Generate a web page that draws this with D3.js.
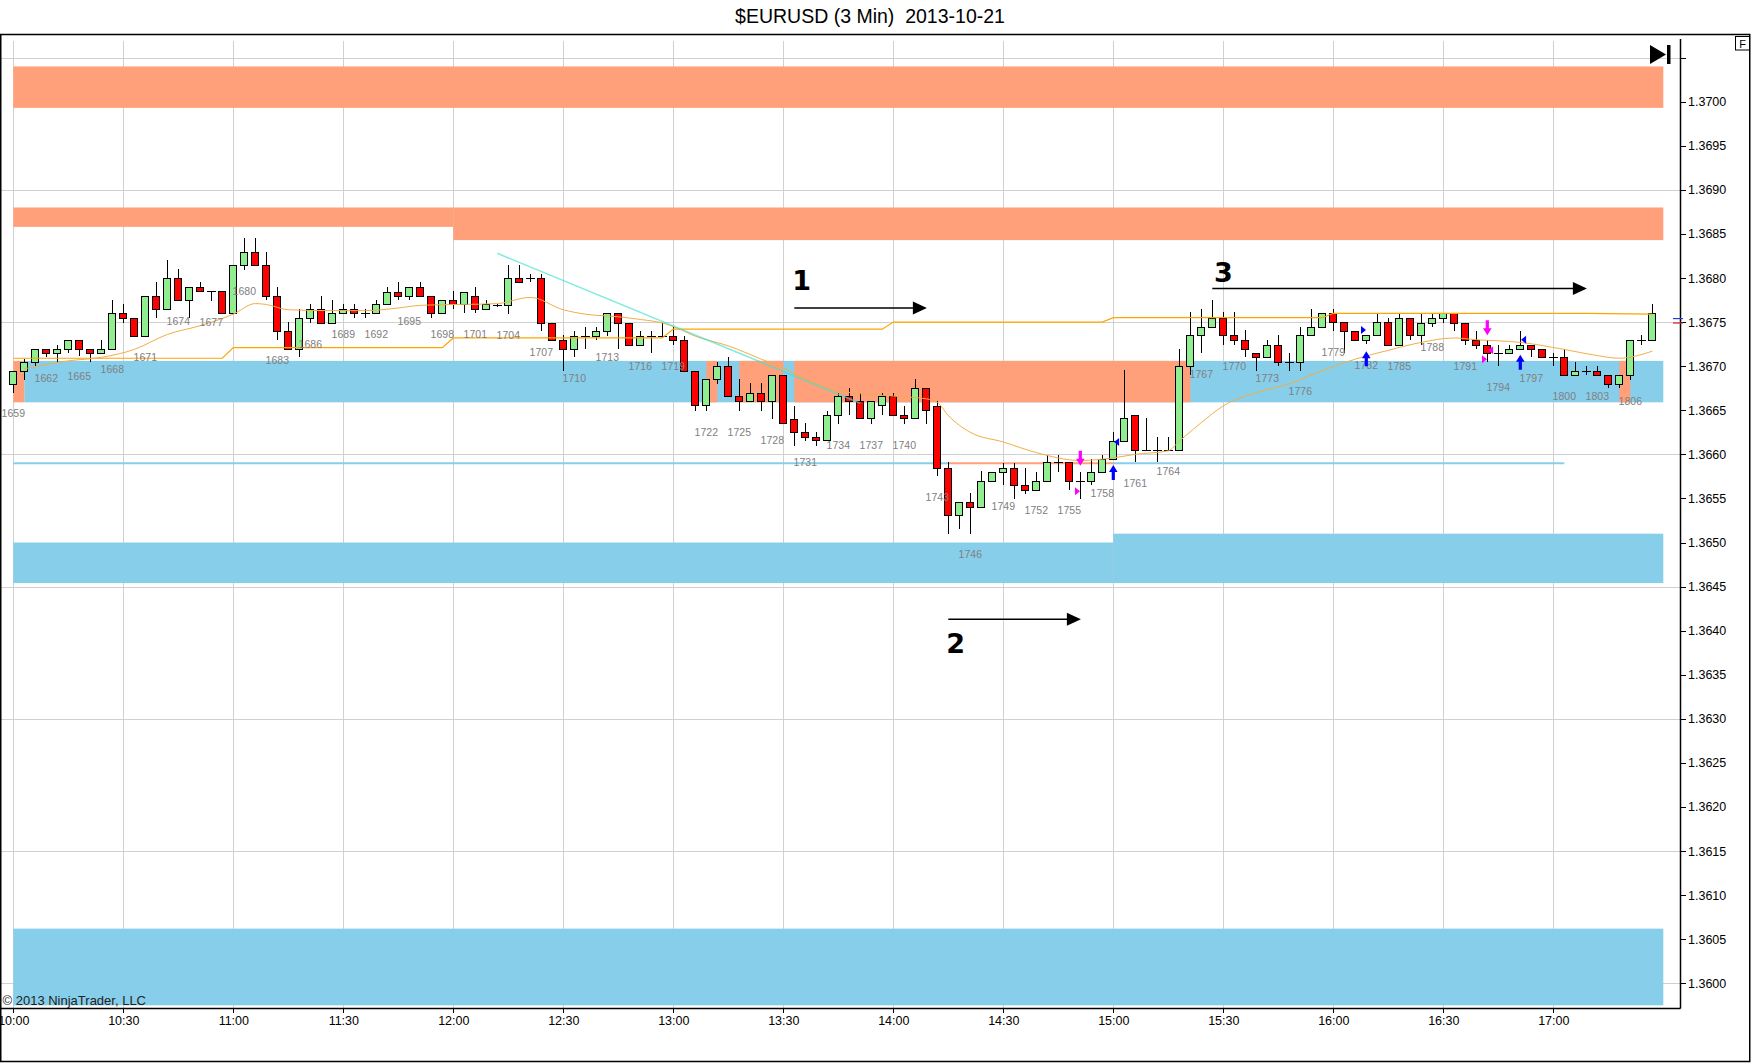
<!DOCTYPE html>
<html>
<head>
<meta charset="utf-8">
<title>$EURUSD (3 Min) 2013-10-21</title>
<script src="https://cdn.jsdelivr.net/npm/d3@7"></script>
<style>
  html, body { margin: 0; padding: 0; background: #fff; }
  svg { display: block; font-family: "Liberation Sans", Arial, sans-serif; }
  .grid line { stroke: #d0d0d0; stroke-width: 1; shape-rendering: crispEdges; }
  .candle line, .candle rect { shape-rendering: crispEdges; }
  .bar-label { font-size: 10.5px; fill: #808080; }
  .axis text { font-size: 12.5px; fill: #000; }
  .axis line { stroke: #000; shape-rendering: crispEdges; }
  .title { font-size: 19.5px; fill: #000; white-space: pre; }
  .note { font-family: "DejaVu Sans", sans-serif; font-weight: bold; font-size: 27px; fill: #000; }
  .copyright { font-size: 13px; fill: #222; }
</style>
</head>
<body>
<svg id="chart"></svg>
<script>
// ---------------- data ----------------
const chartTitle = '$EURUSD (3 Min)  2013-10-21';
const firstBarNumber = 1659;
const sessionStart = new Date(2013, 9, 21, 10, 0);
const barMinutes = 3;

const opens = [
  1.36680, 1.36695, 1.36705, 1.36720, 1.36715, 1.36720, 1.36730, 1.36720, 1.36715, 1.36720,
  1.36760, 1.36755, 1.36734, 1.36780, 1.36765, 1.36800, 1.36775, 1.36790, 1.36785, 1.36785,
  1.36760, 1.36815, 1.36830, 1.36815, 1.36780, 1.36740, 1.36720, 1.36755, 1.36765, 1.36749,
  1.36760, 1.36765, 1.36760, 1.36760, 1.36770, 1.36784, 1.36780, 1.36790, 1.36780, 1.36760,
  1.36775, 1.36770, 1.36780, 1.36765, 1.36769, 1.36769, 1.36800, 1.36800, 1.36800, 1.36749,
  1.36730, 1.36720, 1.36734, 1.36734, 1.36740, 1.36760, 1.36749, 1.36724, 1.36734, 1.36734,
  1.36734, 1.36730, 1.36695, 1.36656, 1.36685, 1.36700, 1.36666, 1.36660, 1.36670, 1.36660,
  1.36690, 1.36640, 1.36625, 1.36620, 1.36616, 1.36645, 1.36666, 1.36660, 1.36641, 1.36656,
  1.36666, 1.36645, 1.36641, 1.36675, 1.36655, 1.36585, 1.36531, 1.36546, 1.36540, 1.36570,
  1.36580, 1.36585, 1.36565, 1.36560, 1.36570, 1.36591, 1.36591, 1.36570, 1.36570, 1.36580,
  1.36595, 1.36615, 1.36645, 1.36605, 1.36605, 1.36605, 1.36605, 1.36700, 1.36735, 1.36745,
  1.36755, 1.36735, 1.36730, 1.36715, 1.36710, 1.36724, 1.36705, 1.36705, 1.36735, 1.36745,
  1.36760, 1.36750, 1.36740, 1.36730, 1.36735, 1.36750, 1.36724, 1.36755, 1.36735, 1.36749,
  1.36755, 1.36760, 1.36749, 1.36730, 1.36724, 1.36715, 1.36715, 1.36720, 1.36724, 1.36720,
  1.36710, 1.36710, 1.36690, 1.36695, 1.36695, 1.36690, 1.36680, 1.36690, 1.36730, 1.36730
];
const highs = [
  1.36695, 1.36708, 1.36720, 1.36720, 1.36724, 1.36730, 1.36730, 1.36720, 1.36730, 1.36775,
  1.36770, 1.36755, 1.36780, 1.36795, 1.36820, 1.36810, 1.36790, 1.36795, 1.36785, 1.36785,
  1.36815, 1.36845, 1.36845, 1.36830, 1.36790, 1.36750, 1.36765, 1.36770, 1.36780, 1.36775,
  1.36770, 1.36770, 1.36765, 1.36775, 1.36790, 1.36795, 1.36790, 1.36795, 1.36780, 1.36775,
  1.36785, 1.36784, 1.36790, 1.36775, 1.36770, 1.36815, 1.36815, 1.36805, 1.36805, 1.36749,
  1.36735, 1.36740, 1.36745, 1.36745, 1.36760, 1.36760, 1.36749, 1.36740, 1.36740, 1.36749,
  1.36745, 1.36734, 1.36695, 1.36685, 1.36705, 1.36710, 1.36685, 1.36681, 1.36681, 1.36690,
  1.36690, 1.36655, 1.36635, 1.36625, 1.36649, 1.36670, 1.36675, 1.36670, 1.36660, 1.36670,
  1.36670, 1.36655, 1.36685, 1.36675, 1.36661, 1.36591, 1.36546, 1.36556, 1.36581, 1.36580,
  1.36590, 1.36590, 1.36585, 1.36580, 1.36599, 1.36599, 1.36591, 1.36580, 1.36595, 1.36599,
  1.36625, 1.36696, 1.36645, 1.36641, 1.36620, 1.36620, 1.36720, 1.36761, 1.36765, 1.36775,
  1.36761, 1.36761, 1.36741, 1.36715, 1.36730, 1.36735, 1.36715, 1.36745, 1.36765, 1.36760,
  1.36765, 1.36750, 1.36740, 1.36735, 1.36760, 1.36755, 1.36760, 1.36755, 1.36760, 1.36760,
  1.36760, 1.36760, 1.36749, 1.36740, 1.36730, 1.36724, 1.36724, 1.36740, 1.36724, 1.36720,
  1.36715, 1.36720, 1.36705, 1.36700, 1.36700, 1.36690, 1.36690, 1.36730, 1.36735, 1.36770
];
const lows = [
  1.36670, 1.36684, 1.36700, 1.36710, 1.36705, 1.36715, 1.36712, 1.36705, 1.36715, 1.36720,
  1.36749, 1.36734, 1.36734, 1.36755, 1.36765, 1.36775, 1.36755, 1.36785, 1.36774, 1.36760,
  1.36760, 1.36809, 1.36815, 1.36775, 1.36730, 1.36720, 1.36710, 1.36749, 1.36749, 1.36749,
  1.36760, 1.36755, 1.36755, 1.36760, 1.36770, 1.36775, 1.36775, 1.36780, 1.36755, 1.36760,
  1.36765, 1.36760, 1.36760, 1.36765, 1.36767, 1.36759, 1.36795, 1.36795, 1.36740, 1.36730,
  1.36695, 1.36710, 1.36720, 1.36730, 1.36734, 1.36720, 1.36724, 1.36724, 1.36715, 1.36734,
  1.36724, 1.36695, 1.36649, 1.36649, 1.36680, 1.36666, 1.36649, 1.36660, 1.36649, 1.36640,
  1.36635, 1.36610, 1.36615, 1.36610, 1.36616, 1.36634, 1.36645, 1.36641, 1.36634, 1.36645,
  1.36645, 1.36634, 1.36641, 1.36634, 1.36575, 1.36510, 1.36515, 1.36510, 1.36540, 1.36570,
  1.36565, 1.36549, 1.36555, 1.36560, 1.36570, 1.36580, 1.36560, 1.36549, 1.36565, 1.36580,
  1.36595, 1.36615, 1.36591, 1.36605, 1.36591, 1.36605, 1.36605, 1.36690, 1.36715, 1.36745,
  1.36724, 1.36724, 1.36710, 1.36695, 1.36710, 1.36700, 1.36695, 1.36695, 1.36735, 1.36745,
  1.36740, 1.36715, 1.36730, 1.36725, 1.36735, 1.36724, 1.36724, 1.36730, 1.36724, 1.36745,
  1.36749, 1.36740, 1.36724, 1.36720, 1.36705, 1.36700, 1.36715, 1.36720, 1.36710, 1.36710,
  1.36700, 1.36690, 1.36690, 1.36690, 1.36690, 1.36675, 1.36675, 1.36684, 1.36724, 1.36730
];
const closes = [
  1.36695, 1.36705, 1.36720, 1.36715, 1.36720, 1.36730, 1.36720, 1.36715, 1.36720, 1.36760,
  1.36755, 1.36734, 1.36780, 1.36765, 1.36800, 1.36775, 1.36790, 1.36785, 1.36785, 1.36760,
  1.36815, 1.36830, 1.36815, 1.36780, 1.36740, 1.36720, 1.36755, 1.36765, 1.36749, 1.36760,
  1.36765, 1.36760, 1.36760, 1.36770, 1.36784, 1.36780, 1.36790, 1.36780, 1.36760, 1.36775,
  1.36770, 1.36784, 1.36765, 1.36770, 1.36769, 1.36800, 1.36795, 1.36800, 1.36749, 1.36730,
  1.36720, 1.36734, 1.36734, 1.36740, 1.36760, 1.36749, 1.36724, 1.36734, 1.36734, 1.36734,
  1.36730, 1.36695, 1.36656, 1.36685, 1.36700, 1.36666, 1.36660, 1.36670, 1.36660, 1.36690,
  1.36635, 1.36625, 1.36620, 1.36616, 1.36645, 1.36666, 1.36660, 1.36641, 1.36660, 1.36666,
  1.36645, 1.36641, 1.36675, 1.36650, 1.36585, 1.36531, 1.36546, 1.36540, 1.36570, 1.36580,
  1.36585, 1.36565, 1.36560, 1.36570, 1.36591, 1.36591, 1.36570, 1.36570, 1.36580, 1.36595,
  1.36615, 1.36641, 1.36605, 1.36605, 1.36605, 1.36605, 1.36700, 1.36735, 1.36745, 1.36755,
  1.36735, 1.36730, 1.36720, 1.36710, 1.36724, 1.36705, 1.36705, 1.36735, 1.36745, 1.36760,
  1.36750, 1.36740, 1.36730, 1.36735, 1.36750, 1.36724, 1.36755, 1.36735, 1.36749, 1.36755,
  1.36760, 1.36749, 1.36730, 1.36724, 1.36715, 1.36715, 1.36720, 1.36724, 1.36720, 1.36710,
  1.36710, 1.36690, 1.36695, 1.36695, 1.36690, 1.36680, 1.36690, 1.36730, 1.36730, 1.36760
];

// smooth orange average, read at selected bars
const maBars = [1, 5, 8, 11, 14, 17, 20, 22, 23, 25, 29, 32, 35, 37, 44, 47, 50, 52, 55, 57,
  59, 60, 62, 65, 68, 70, 72, 75, 80, 83, 84, 85, 87, 90, 93, 97, 100, 102, 105, 106,
  108, 110, 113, 116, 119, 122, 125, 128, 131, 133, 137, 141, 144, 146, 149];
const maPrices = [1.36697, 1.36706, 1.36710, 1.36719, 1.36736, 1.36746, 1.36759, 1.36771, 1.36770, 1.36764,
  1.36763, 1.36763, 1.36766, 1.36769, 1.36771, 1.36778, 1.36764, 1.36759, 1.36756, 1.36753,
  1.36749, 1.36745, 1.36734, 1.36723, 1.36708, 1.36698, 1.36686, 1.36672, 1.36666, 1.36663,
  1.36659, 1.36644, 1.36625, 1.36614, 1.36602, 1.36593, 1.36596, 1.36600, 1.36604, 1.36615,
  1.36636, 1.36655, 1.36670, 1.36680, 1.36695, 1.36708, 1.36718, 1.36727, 1.36732, 1.36730,
  1.36727, 1.36719, 1.36712, 1.36709, 1.36717];

// stepped (hourly) orange line
const stepBars = [0, 19, 20, 39, 40, 59, 60, 79, 80, 99, 100, 119, 120, 143, 149];
const stepPrices = [1.36709, 1.36709, 1.36721, 1.36721, 1.36732, 1.36732, 1.36742, 1.36742,
  1.36750, 1.36750, 1.36755, 1.36755, 1.36760, 1.36760, 1.36759];

// drawn trend line
const trendBars = [44, 77];
const trendPrices = [1.36828, 1.36658];

// zones: [fromBar, toBar, topPrice, bottomPrice]
const demandZones = [
  [1, 150, 1.36706, 1.36659],
  [0, 100, 1.36500, 1.36454],
  [100, 150, 1.36510, 1.36454],
  [0, 150, 1.36062, 1.35975]
];
const supplyZones = [
  [0, 150, 1.37040, 1.36993],
  [0, 40, 1.36880, 1.36858],
  [40, 150, 1.36880, 1.36843],
  [0, 1, 1.36706, 1.36659],
  [63, 64, 1.36706, 1.36659],
  [66, 70, 1.36706, 1.36659],
  [71, 107, 1.36706, 1.36659],
  [146, 147, 1.36706, 1.36659]
];

// horizontal level line: [fromBar, toBar, kind]
const levelPrice = 1.36590;
const levelSegments = [[0, 85, 'demand'], [85, 100, 'supply'], [100, 141, 'demand']];

// signal markers
const upArrowBars = [100, 123, 137];
const upArrowPrices = [1.36588, 1.36717, 1.36713];
const downArrowBars = [97, 134];
const downArrowPrices = [1.36587, 1.36735];
// [bar, price, pointing, side]
const triangleMarks = [
  [100, 1.36614, 'left', 'buy'],
  [123, 1.36741, 'right', 'buy'],
  [137, 1.36730, 'left', 'buy'],
  [97, 1.36558, 'right', 'sell'],
  [134, 1.36708, 'right', 'sell'],
  [134, 1.36718, 'left', 'sell']
];

// numbered annotations
const noteLabels = ['1', '2', '3'];
const noteFromBars = [71, 85, 109];
const noteToBars = [83, 97, 143];
const noteArrowPrices = [1.36766, 1.36413, 1.36788];
const noteTextBars = [71.8, 85.9, 110];
const noteTextPrices = [1.36786, 1.36375, 1.36796];

// last bid / ask marks on the price axis
const askPrice = 1.36754;
const bidPrice = 1.36749;

// axis ticks
const yTickValues = [1.3600, 1.3605, 1.3610, 1.3615, 1.3620, 1.3625, 1.3630, 1.3635, 1.3640, 1.3645,
  1.3650, 1.3655, 1.3660, 1.3665, 1.3670, 1.3675, 1.3680, 1.3685, 1.3690, 1.3695, 1.3700, 1.3705];
const gridPrices = [1.3600, 1.3615, 1.3630, 1.3645, 1.3660, 1.3675, 1.3690, 1.3705];

// ---------------- layout ----------------
const W = 1752, H = 1064;
const plot = {left: 1, right: 1680, top: 39, bottom: 1008};
const firstBarX = 13.3, barSpacing = 11;
const colors = {
  up: '#90ee90', down: '#ff0000', demand: '#87ceeb', supply: '#ffa07a',
  step: '#ffa500', ma: '#f2ad45', trend: '#40e0d0', buy: '#0000ff', sell: '#ff00ff'
};

const barTime = i => d3.timeMinute.offset(sessionStart, i * barMinutes);
const nBars = opens.length;

const x = d3.scaleTime()
    .domain([barTime(0), barTime(nBars - 1)])
    .range([firstBarX, firstBarX + (nBars - 1) * barSpacing]);
const xb = i => x(barTime(i));

const y = d3.scaleLinear()
    .domain([1.3600, 1.3700])
    .range([983.3, 101.7]);

const svg = d3.select('#chart')
    .attr('width', W)
    .attr('height', H);

svg.append('defs').append('clipPath')
    .attr('id', 'plot-clip')
  .append('rect')
    .attr('x', plot.left)
    .attr('y', plot.top)
    .attr('width', plot.right - plot.left)
    .attr('height', plot.bottom - plot.top);

// Title
svg.append('text')
    .attr('class', 'title')
    .attr('x', 870)
    .attr('y', 23)
    .attr('text-anchor', 'middle')
    .text(chartTitle);

const chart = svg.append('g').attr('clip-path', 'url(#plot-clip)');

// Grid
const timeTicks = d3.timeMinute.every(30).range(barTime(0), d3.timeMinute.offset(barTime(nBars - 1), 1));
const grid = chart.append('g').attr('class', 'grid');
grid.selectAll('.vgrid')
    .data(timeTicks)
  .join('line')
    .attr('x1', d => Math.round(x(d)) + 0.5)
    .attr('x2', d => Math.round(x(d)) + 0.5)
    .attr('y1', plot.top + 2)
    .attr('y2', plot.bottom);
grid.selectAll('.hgrid')
    .data(gridPrices)
  .join('line')
    .attr('x1', plot.left)
    .attr('x2', plot.right)
    .attr('y1', d => Math.round(y(d)) + 0.5)
    .attr('y2', d => Math.round(y(d)) + 0.5);

// Zones
const drawZones = (list, color) => {
  chart.append('g').selectAll('rect')
      .data(list)
    .join('rect')
      .attr('x', d => xb(d[0]))
      .attr('width', d => xb(d[1]) - xb(d[0]))
      .attr('y', d => y(d[2]))
      .attr('height', d => y(d[3]) - y(d[2]))
      .attr('fill', color);
};
drawZones(demandZones, colors.demand);
drawZones(supplyZones, colors.supply);

// Level line
chart.append('g').selectAll('line')
    .data(levelSegments)
  .join('line')
    .attr('x1', d => xb(d[0]))
    .attr('x2', d => xb(d[1]))
    .attr('y1', y(levelPrice))
    .attr('y2', y(levelPrice))
    .attr('stroke', d => colors[d[2]])
    .attr('stroke-width', 2);

// Candles
const bars = d3.range(nBars).map(i => ({
  i, num: firstBarNumber + i,
  open: opens[i], high: highs[i], low: lows[i], close: closes[i]
}));

const candle = chart.append('g').selectAll('.candle')
    .data(bars)
  .join('g')
    .attr('class', 'candle');

candle.append('line')
    .attr('x1', d => Math.round(xb(d.i)) + 0.5)
    .attr('x2', d => Math.round(xb(d.i)) + 0.5)
    .attr('y1', d => y(d.high))
    .attr('y2', d => y(d.low))
    .attr('stroke', '#000');

candle.filter(d => d.open !== d.close).append('rect')
    .attr('x', d => Math.round(xb(d.i)) - 3.5)
    .attr('width', 7)
    .attr('y', d => Math.round(y(Math.max(d.open, d.close))) + 0.5)
    .attr('height', d => Math.max(1, Math.round(y(Math.min(d.open, d.close))) - Math.round(y(Math.max(d.open, d.close)))))
    .attr('fill', d => d.close > d.open ? colors.up : colors.down)
    .attr('stroke', '#000');

candle.filter(d => d.open === d.close).append('line')
    .attr('x1', d => Math.round(xb(d.i)) - 4)
    .attr('x2', d => Math.round(xb(d.i)) + 5)
    .attr('y1', d => Math.round(y(d.open)) + 0.5)
    .attr('y2', d => Math.round(y(d.open)) + 0.5)
    .attr('stroke', '#000');

// Indicator lines
const stepLine = d3.line()
    .x(d => xb(d[0]))
    .y(d => y(d[1]));
chart.append('path')
    .datum(d3.zip(stepBars, stepPrices))
    .attr('d', stepLine)
    .attr('fill', 'none')
    .attr('stroke', colors.step)
    .attr('stroke-width', 1.2);

const maLine = d3.line()
    .x(d => xb(d[0]))
    .y(d => y(d[1]))
    .curve(d3.curveMonotoneX);
chart.append('path')
    .datum(d3.zip(maBars, maPrices))
    .attr('d', maLine)
    .attr('fill', 'none')
    .attr('stroke', colors.ma)
    .attr('stroke-width', 1);

chart.append('line')
    .attr('x1', xb(trendBars[0]))
    .attr('y1', y(trendPrices[0]))
    .attr('x2', xb(trendBars[1]))
    .attr('y2', y(trendPrices[1]))
    .attr('stroke', colors.trend)
    .attr('stroke-opacity', 0.65)
    .attr('stroke-width', 1.6);

// Bar numbers every third bar
chart.append('g').selectAll('text')
    .data(bars.filter(d => d.i % 3 === 0))
  .join('text')
    .attr('class', 'bar-label')
    .attr('x', d => xb(d.i))
    .attr('y', d => y(d.low) + 21)
    .attr('dy', '0.35em')
    .attr('text-anchor', 'middle')
    .text(d => d.num);

// Signal markers
const upArrowPath = 'M0,0L4.3,7L1.6,7L1.6,15L-1.6,15L-1.6,7L-4.3,7Z';
const downArrowPath = 'M0,0L4.3,-7L1.6,-7L1.6,-15L-1.6,-15L-1.6,-7L-4.3,-7Z';
chart.append('g').selectAll('path')
    .data(d3.zip(upArrowBars, upArrowPrices))
  .join('path')
    .attr('d', upArrowPath)
    .attr('transform', d => `translate(${xb(d[0])},${y(d[1])})`)
    .attr('fill', colors.buy);
chart.append('g').selectAll('path')
    .data(d3.zip(downArrowBars, downArrowPrices))
  .join('path')
    .attr('d', downArrowPath)
    .attr('transform', d => `translate(${xb(d[0])},${y(d[1])})`)
    .attr('fill', colors.sell);
chart.append('g').selectAll('path')
    .data(triangleMarks)
  .join('path')
    .attr('d', d => d[2] === 'left' ? 'M0,0L5,-4L5,4Z' : 'M0,0L-5,-4L-5,4Z')
    .attr('transform', d => `translate(${xb(d[0]) + (d[2] === 'left' ? 0.8 : -0.3)},${y(d[1])})`)
    .attr('fill', d => colors[d[3]]);

// Numbered arrows
const notes = noteLabels.map((label, k) => ({
  label,
  x1: xb(noteFromBars[k]), x2: xb(noteToBars[k]) + 0.6, ya: y(noteArrowPrices[k]),
  tx: xb(noteTextBars[k]), ty: y(noteTextPrices[k])
}));
const noteG = chart.append('g').selectAll('g')
    .data(notes)
  .join('g');
noteG.append('line')
    .attr('x1', d => d.x1)
    .attr('x2', d => d.x2 - 12)
    .attr('y1', d => d.ya)
    .attr('y2', d => d.ya)
    .attr('stroke', '#000')
    .attr('stroke-width', 1.5);
noteG.append('path')
    .attr('d', d => `M${d.x2},${d.ya}L${d.x2 - 14},${d.ya - 6.5}L${d.x2 - 14},${d.ya + 6.5}Z`)
    .attr('fill', '#000');
noteG.append('text')
    .attr('class', 'note')
    .attr('x', d => d.tx)
    .attr('y', d => d.ty)
    .attr('text-anchor', 'middle')
    .text(d => d.label);

// Axes
const xAxis = d3.axisBottom(x)
    .tickValues(timeTicks)
    .tickFormat(d3.timeFormat('%H:%M'))
    .tickSize(5)
    .tickPadding(3);
svg.append('g')
    .attr('class', 'axis x-axis')
    .attr('transform', `translate(0,${plot.bottom})`)
    .call(xAxis)
    .call(g => g.select('.domain').remove());

const yAxis = d3.axisRight(y)
    .tickValues(yTickValues)
    .tickFormat(d => d > 1.37001 ? '' : d3.format('.4f')(d))
    .tickSize(6)
    .tickPadding(2);
svg.append('g')
    .attr('class', 'axis y-axis')
    .attr('transform', `translate(${plot.right},0)`)
    .call(yAxis)
    .call(g => g.select('.domain').remove());

// Plot frame lines
svg.append('line')
    .attr('x1', 0).attr('x2', plot.right + 0.5)
    .attr('y1', plot.bottom + 0.5).attr('y2', plot.bottom + 0.5)
    .attr('stroke', '#000').attr('stroke-width', 1.5);
svg.append('line')
    .attr('x1', plot.right + 0.5).attr('x2', plot.right + 0.5)
    .attr('y1', plot.top).attr('y2', plot.bottom + 0.5)
    .attr('stroke', '#000').attr('stroke-width', 1.5);

// Bid / ask marks
svg.selectAll('.quote')
    .data([[askPrice, '#1c3fd8'], [bidPrice, '#d81c1c']])
  .join('line')
    .attr('class', 'quote')
    .attr('x1', plot.right - 7).attr('x2', plot.right + 3)
    .attr('y1', d => y(d[0])).attr('y2', d => y(d[0]))
    .attr('stroke', d => d[1]).attr('stroke-width', 1.2);

// Outer frame
svg.append('rect')
    .attr('x', 0.75).attr('y', 34.5)
    .attr('width', 1749).attr('height', 1027)
    .attr('fill', 'none')
    .attr('stroke', '#000')
    .attr('stroke-width', 1.5);

// Scroll-to-end icon and "F" box
svg.append('path')
    .attr('d', 'M1650,45L1666,54.5L1650,64Z')
    .attr('fill', '#000');
svg.append('rect')
    .attr('x', 1667).attr('y', 45).attr('width', 3.5).attr('height', 19)
    .attr('fill', '#000');
svg.append('rect')
    .attr('x', 1735.5).attr('y', 36.5).attr('width', 14).attr('height', 13.5)
    .attr('fill', '#fff').attr('stroke', '#000');
svg.append('text')
    .attr('x', 1742.5).attr('y', 47.5)
    .attr('text-anchor', 'middle')
    .attr('font-size', 11)
    .text('F');

// Copyright
svg.append('text')
    .attr('class', 'copyright')
    .attr('x', 2.5)
    .attr('y', 1004.5)
    .text('\u00a9 2013 NinjaTrader, LLC');
</script>
</body>
</html>
